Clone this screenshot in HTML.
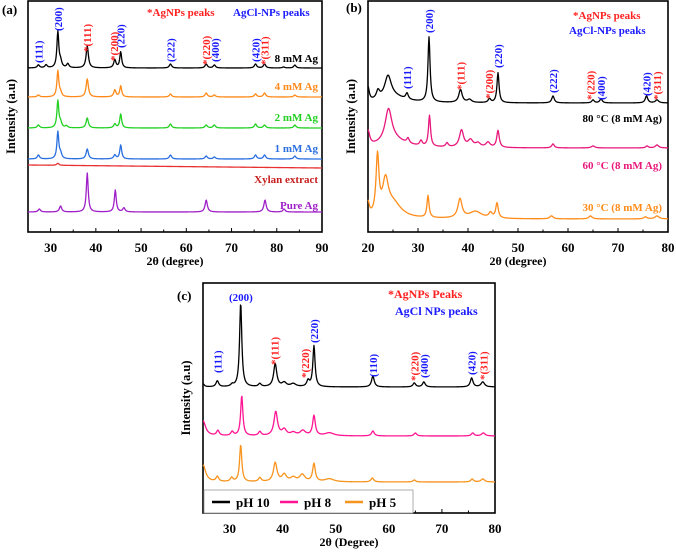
<!DOCTYPE html>
<html><head><meta charset="utf-8"><style>
html,body{margin:0;padding:0;background:#fff;}
svg{display:block;font-family:"Liberation Serif",serif;font-weight:bold;}
</style></head><body>
<svg id="fig" width="676" height="553" viewBox="0 0 676 553" xmlns="http://www.w3.org/2000/svg"></svg>
<script>
// ---------- Panel (a) data ----------
const aCats = ["8 mM Ag","4 mM Ag","2 mM Ag","1 mM Ag","Xylan extract","Pure Ag"];
const aBase = [68,97,128,159,165,212];
const a8 = [[27.3,3,.3],[29,3,.3],[31.6,36,.25],[32.2,6,.3],[33.8,4,.3],[38.1,22,.3],[44.2,8,.3],[45.5,16,.25],[56.5,4,.3],[64.4,4,.3],[66.2,3,.3],[75.3,4,.3],[77.3,4,.3],[81.5,1,.3],[84,3,.3]];
const a4 = [[27.3,2,.3],[31.6,26,.25],[32.2,4,.3],[38.1,18,.3],[44.2,7,.3],[45.5,11,.25],[56.5,3,.3],[64.4,4,.3],[66.2,2,.3],[75.3,3,.3],[77.3,4,.3],[84,2,.3]];
const a2 = [[27.3,3,.3],[31.6,27,.25],[32.2,5,.3],[33.5,2,.3],[38.1,10,.3],[44.2,4,.3],[45.5,14,.25],[56.5,4,.3],[64.4,3,.3],[66.2,3,.3],[75.3,4,.3],[77.3,3,.3],[84,3,.3]];
const a1 = [[27.3,4,.3],[31.6,27,.25],[32.2,5,.3],[38.1,10,.3],[44.2,4,.3],[45.5,14,.25],[56.5,4,.3],[64.4,3,.3],[66.2,2,.3],[75.3,4,.3],[77.3,4,.3],[84,3,.3]];
const aXy = [[31.6,2,.3]];
const aAg = [[27.5,3,.3],[32.2,6,.3],[38.1,39,.25],[44.3,22,.25],[46.2,4,.3],[64.4,12,.3],[77.4,12,.3],[81.6,3,.3]];
const aTicks = [30,40,50,60,70,80,90];
// ---------- Panel (b) data ----------
const bCats = ["80 °C (8 mM Ag)","60 °C (8 mM Ag)","30 °C (8 mM Ag)"];
const bBase = [103,148,219];
const b80 = [[20,14,.3],[22,8,.4],[24,22,.8],[25,6,3],[27.8,6,.3],[32.2,65,.25],[38.5,13,.4],[40.3,3,.5],[44.3,4,.3],[46,30,.25],[57,7,.3],[65,3,.3],[66.6,4,.3],[75.7,7,.3],[77.8,3,.4]];
const b60 = [[20,15,.4],[24.1,32,.8],[25,8,3],[28,5,.3],[30.6,5,.3],[32.3,31,.25],[35.8,4,.3],[38.7,17,.5],[40.5,7,.6],[42,4,.6],[44,5,.5],[46,17,.3],[57,4,.3],[65,2,.4],[75.8,2,.3],[77.8,3,.4]];
const b30 = [[20,14,.3],[21.9,58,.35],[23.5,32,.7],[25,15,2],[32,22,.25],[38.4,19,.5],[41.5,7,1.5],[44.5,5,.4],[45.8,15,.3],[56.7,3,.4],[64.5,3,.4],[75.5,2,.4],[77.8,3,.5]];
const bTicks = [20,30,40,50,60,70,80];
// ---------- Panel (c) data ----------
const cCats = ["pH 10","pH 8","pH 5"];
const cBase = [387,436,482];
const c10 = [[25,3,.3],[27.7,6,.3],[30.5,2,.3],[32.1,84,.25],[35.7,3,.3],[38.6,23,.35],[40.3,4,.5],[42,3,.6],[44.8,6,.3],[45.9,41,.25],[57,11,.3],[64.8,4,.3],[66.6,5,.3],[75.6,9,.3],[77.7,5,.4]];
const c8 = [[25,15,.6],[27.8,5,.3],[30.5,4,.3],[32.3,40,.25],[35.7,4,.3],[38.7,24,.4],[40.3,6,.5],[42,3,.6],[43.8,5,.6],[45.9,20,.3],[48.8,3,1],[57,5,.3],[65,3,.3],[75.8,3,.3],[77.8,3,.4]];
const c5 = [[25,17,.6],[27.7,5,.3],[30.4,4,.3],[32.1,37,.25],[35.7,4,.3],[38.6,19,.4],[40.3,7,.5],[42,4,.6],[43.7,7,.6],[45.9,18,.3],[48.8,3,1],[56.9,4,.3],[64.8,2,.3],[75.7,3,.3],[77.7,3,.4]];
const cTicks = [30,40,50,60,70,80];

const NS="http://www.w3.org/2000/svg";
const svg=document.getElementById('fig');
function mk(tag,attrs,parent,txt){const e=document.createElementNS(NS,tag);for(const k in attrs)e.setAttribute(k,attrs[k]);if(txt!==undefined)e.textContent=txt;(parent||svg).appendChild(e);return e;}

function panel(id,box,xmin,xmax,ticks,xlabel){
  const g=mk('g',{});
  
  
  const sx=v=>box.l+(v-xmin)/(xmax-xmin)*(box.r-box.l);
  const r=mk('rect',{x:box.l,y:box.t,width:box.r-box.l,height:box.b-box.t,fill:'none',stroke:'#000','stroke-width':1.6},g);
  
  
  for(let v=Math.ceil(xmin/5)*5; v<=xmax; v+=5){
    const maj=ticks.includes(v);
    const t=mk('line',{x1:sx(v),x2:sx(v),y1:box.b,y2:box.b-(maj?4:2.5),stroke:'#000','stroke-width':1},g);
    
    
  }
  ticks.forEach(v=>{
    const t=mk('text',{x:sx(v),y:box.b+20,'text-anchor':'middle','font-size':13},g,String(v));
    
    
  });
  const xl=mk('text',{x:(box.l+box.r)/2,y:box.b+33,'text-anchor':'middle','font-size':12},g,xlabel);
  
  
  const cy=(box.t+box.b)/2;
  const yx=box.l-13;
  const yl=mk('text',{x:yx,y:cy,'text-anchor':'middle','font-size':12.5,transform:`rotate(-90 ${yx} ${cy})`},g,'Intensity (a.u)');
  
  
  return {g,sx};
}
function series(P,name,peaks,base,base2,color,xmin,xmax){
  let d='';
  for(let i=0;i<=600;i++){
    const v=xmin+(xmax-xmin)*i/600;
    let y=base+(base2-base)*i/600;
    peaks.forEach(p=>{const u=(v-p[0])/p[2];y-=p[1]/(1+u*u);});
    d+=(i?'L':'M')+P.sx(v).toFixed(2)+' '+y.toFixed(2);
  }
  const pth=mk('path',{d,fill:'none',stroke:color,'stroke-width':1.3,'stroke-linejoin':'round'},P.g);
  
  
}
function label(P,x,y,txt,color,size,anchor,nm){
  const t=mk('text',{x,y,fill:color,'font-size':size||11,'text-anchor':anchor||'start'},P.g,txt);
  
  
}
function ann(P,v,bottom,txt,color){
  const x=P.sx(v)+4;
  const t=mk('text',{x,y:bottom,fill:color,'font-size':11,transform:`rotate(-90 ${x} ${bottom})`},P.g,txt);
  
  
}
const BL='#1a1aff',RD='#ff2020';

// Panel a
const A=panel('a',{l:28,r:322,t:1,b:232},25,90,aTicks,'2θ (degree)');
const aSer=[a8,a4,a2,a1,aXy,aAg];
const aCol=['#000','#ff8a1a','#22d022','#2a6fe0','#e83030','#a020c8'];
const aLab=['#000','#ff8a1a','#22d022','#2a6fe0','#c81e1e','#a020c8'];
const aLy=[62,90,121,152,183,209];
aSer.forEach((s,i)=>{series(A,aCats[i],s,aBase[i],i==4?aBase[i]+3:aBase[i],aCol[i],25,90);label(A,318,aLy[i],aCats[i],aLab[i],11,'end','series-label');});
label(A,2,14,'(a)','#000',13,'start','panel-letter');
label(A,147,16,'*AgNPs peaks',RD,11,'start','legend-agnps');
label(A,233,16,'AgCl-NPs peaks',BL,11,'start','legend-agcl');
[[27.3,63,'(111)',BL],[31.6,31,'(200)',BL],[38.0,52,'*(111)',RD],[44,61,'*(200)',RD],[45.5,48,'(220)',BL],[56.5,62,'(222)',BL],[64.3,65,'*(220)',RD],[66.3,62,'(400)',BL],[75.3,62,'(420)',BL],[77.3,65,'*(311)',RD]].forEach(a=>ann(A,...a));

// Panel b
const B=panel('b',{l:368,r:668,t:1,b:232},20,80,bTicks,'2θ (degree)');
const bSer=[b80,b60,b30];
const bCol=['#000','#e8177c','#ff8c1a'];
const bLy=[122,169,211];
bSer.forEach((s,i)=>{series(B,bCats[i],s,bBase[i],bBase[i],bCol[i],20,80);label(B,662,bLy[i],bCats[i],bCol[i],11,'end','series-label');});
label(B,346,12,'(b)','#000',13,'start','panel-letter');
label(B,573,19,'*AgNPs peaks',RD,11,'start','legend-agnps');
label(B,569,34,'AgCl-NPs peaks',BL,11,'start','legend-agcl');
[[27.8,89,'(111)',BL],[32.2,33,'(200)',BL],[38.5,90,'*(111)',RD],[44.2,99,'*(200)',RD],[46,68,'(220)',BL],[57,93,'(222)',BL],[64.5,100,'*(220)',RD],[66.6,100,'(400)',BL],[75.7,96,'(420)',BL],[77.8,100,'*(311)',RD]].forEach(a=>ann(B,...a));

// Panel c
const C=panel('c',{l:203,r:495,t:283,b:513},25,80,cTicks,'2θ (Degree)');
const cSer=[c10,c8,c5];
const cCol=['#000','#ff1493','#f7941d'];
cSer.forEach((s,i)=>series(C,cCats[i],s,cBase[i],cBase[i],cCol[i],25,80));
label(C,177,300,'(c)','#000',13,'start','panel-letter');
label(C,388,298,'*AgNPs Peaks',RD,12,'start','legend-agnps');
label(C,395,315,'AgCl NPs peaks',BL,12,'start','legend-agcl');
label(C,229,301,'(200)',BL,11,'start','peak-annotation');
[[27.7,373,'(111)',BL],[38.5,365,'*(111)',RD],[44.2,378,'*(220)',RD],[45.9,343,'(220)',BL],[57,377,'(110)',BL],[64.8,381,'*(220)',RD],[66.6,378,'(400)',BL],[75.6,375,'(420)',BL],[77.8,380,'*(311)',RD]].forEach(a=>ann(C,...a));
const lg=mk('g',{},C.g);


mk('rect',{x:204,y:490,width:209,height:23,fill:'#fff',stroke:'#999','stroke-width':0.8},lg);
const lx=[212,280,345];
cCats.forEach((c,i)=>{
  const ln=mk('line',{x1:lx[i],x2:lx[i]+18,y1:502,y2:502,stroke:cCol[i],'stroke-width':2.5},lg);
  
  
  const t=mk('text',{x:lx[i]+24,y:507,'font-size':13},lg,c);
  
  
});
</script>
</body></html>
